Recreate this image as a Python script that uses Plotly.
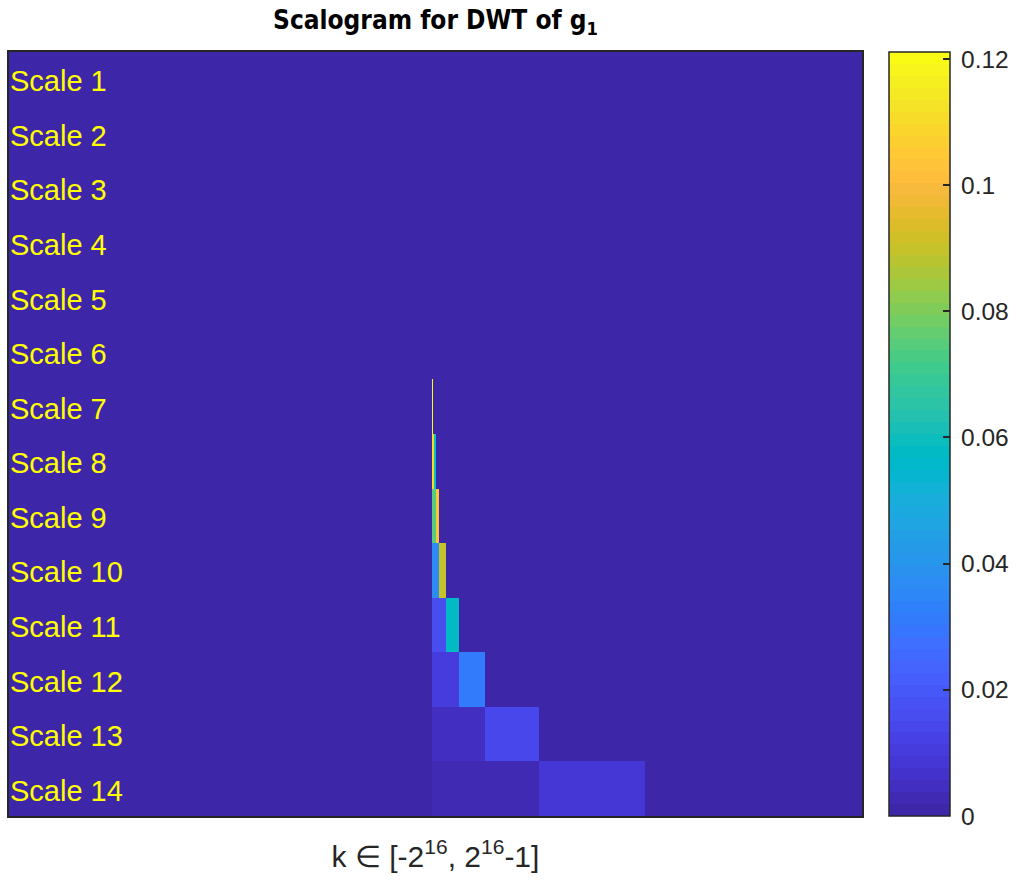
import plotly.graph_objects as go
import numpy as np

# ---------------- data ----------------
scales = list(range(1, 15))
scale_labels = [f"Scale {s}" for s in scales]
k_min, k_max = -65536, 65536          # k in [-2^16, 2^16-1]
start_k = -512                          # first non-zero coefficient position
# non-zero coefficient magnitudes (consecutive, starting at start_k), per scale
coef_s7 = [0.121]
coef_s8 = [0.110, 0.060]
coef_s9 = [0.075, 0.104]
coef_s10 = [0.037, 0.090]
coef_s11 = [0.017, 0.057]
coef_s12 = [0.010, 0.031]
coef_s13 = [0.004, 0.014]
coef_s14 = [0.002, 0.009]
coefs = {7: coef_s7, 8: coef_s8, 9: coef_s9, 10: coef_s10,
         11: coef_s11, 12: coef_s12, 13: coef_s13, 14: coef_s14}
cmin, cmax = 0.0, 0.1211
cbar_ticks = [0, 0.02, 0.04, 0.06, 0.08, 0.1, 0.12]
cbar_ticktext = ["0", "0.02", "0.04", "0.06", "0.08", "0.1", "0.12"]

# parula (64)
parula = [
(0.2422,0.1504,0.6603),(0.2504,0.1650,0.7076),(0.2578,0.1818,0.7511),(0.2647,0.1978,0.7952),
(0.2706,0.2147,0.8364),(0.2751,0.2342,0.8710),(0.2783,0.2559,0.8991),(0.2803,0.2782,0.9221),
(0.2813,0.3006,0.9414),(0.2810,0.3228,0.9579),(0.2795,0.3447,0.9717),(0.2760,0.3667,0.9829),
(0.2699,0.3892,0.9906),(0.2602,0.4123,0.9952),(0.2440,0.4358,0.9988),(0.2206,0.4603,0.9973),
(0.1963,0.4847,0.9892),(0.1834,0.5074,0.9798),(0.1786,0.5289,0.9682),(0.1764,0.5499,0.9520),
(0.1687,0.5703,0.9359),(0.1540,0.5902,0.9218),(0.1460,0.6091,0.9079),(0.1380,0.6276,0.8973),
(0.1248,0.6459,0.8883),(0.1113,0.6635,0.8763),(0.0952,0.6798,0.8598),(0.0689,0.6948,0.8394),
(0.0297,0.7082,0.8163),(0.0036,0.7203,0.7917),(0.0067,0.7312,0.7660),(0.0433,0.7411,0.7394),
(0.0964,0.7500,0.7120),(0.1408,0.7584,0.6842),(0.1717,0.7670,0.6554),(0.1938,0.7758,0.6251),
(0.2161,0.7843,0.5923),(0.2470,0.7918,0.5567),(0.2906,0.7973,0.5188),(0.3406,0.8008,0.4789),
(0.3909,0.8029,0.4354),(0.4456,0.8024,0.3909),(0.5044,0.7993,0.3480),(0.5616,0.7942,0.3045),
(0.6174,0.7876,0.2612),(0.6720,0.7793,0.2227),(0.7242,0.7698,0.1910),(0.7738,0.7598,0.1646),
(0.8203,0.7498,0.1535),(0.8634,0.7406,0.1596),(0.9035,0.7330,0.1774),(0.9393,0.7288,0.2100),
(0.9728,0.7298,0.2394),(0.9956,0.7434,0.2371),(0.9970,0.7659,0.2199),(0.9952,0.7893,0.2028),
(0.9892,0.8136,0.1885),(0.9786,0.8386,0.1766),(0.9676,0.8639,0.1643),(0.9610,0.8890,0.1537),
(0.9597,0.9135,0.1423),(0.9628,0.9373,0.1265),(0.9691,0.9606,0.1064),(0.9769,0.9839,0.0805)]

def rgb(c):
    return "rgb(%d,%d,%d)" % tuple(int(round(v * 255)) for v in c)

n = len(parula)
colorscale = []
for i, c in enumerate(parula):
    colorscale.append([i / n, rgb(c)])
    colorscale.append([(i + 1) / n, rgb(c)])

# ---------------- build heatmap grid ----------------
edges = {k_min, k_max}
for s, vals in coefs.items():
    w = 2 ** s
    for i in range(len(vals) + 1):
        edges.add(start_k + i * w)
edges = sorted(edges)
centers = [(a + b) / 2 for a, b in zip(edges[:-1], edges[1:])]

z = []
for s in scales:
    row = []
    vals = coefs.get(s, [])
    w = 2 ** s
    for c in centers:
        idx = int(np.floor((c - start_k) / w))
        row.append(vals[idx] if 0 <= idx < len(vals) and c >= start_k else 0.0)
    z.append(row)

PL, PR, PT, PB = 9, 862, 52, 816
W, H = 1018, 881
pw = PR - PL

fig = go.Figure(go.Heatmap(
    x=edges, y=scales, z=z, zmin=cmin, zmax=cmax,
    colorscale=colorscale, hoverinfo="skip",
    colorbar=dict(
        x=(889 - PL) / pw, xref="paper", xanchor="left", xpad=0,
        y=1, yref="paper", yanchor="top", ypad=0,
        len=1, lenmode="fraction", thickness=61, thicknessmode="pixels",
        outlinewidth=1.5, outlinecolor="#262626",
        tickvals=cbar_ticks, ticktext=["\u2009" + t for t in cbar_ticktext],
        ticks="inside", ticklen=7, tickwidth=1.5, tickcolor="#262626",
        tickfont=dict(family="Liberation Sans, Arial", size=24.5, color="#262626"),
    ),
))

for s, lab in zip(scales, scale_labels):
    fig.add_annotation(x=0, xref="paper", xanchor="left", xshift=-1,
                       y=s, yref="y", yanchor="middle", yshift=-2, text=lab, showarrow=False,
                       font=dict(family="Liberation Sans, Arial", size=29, color="#ffff00"))

fig.update_layout(
    width=W, height=H,
    margin=dict(l=PL, r=W - PR, t=PT, b=H - PB, autoexpand=False),
    paper_bgcolor="white", plot_bgcolor="white",
    title=dict(text="Scalogram for DWT of g<sub>1</sub>", x=(PL + PR) / 2 / W, xanchor="center",
               y=1 - 20 / H, yanchor="middle",
               font=dict(family="Liberation Sans Narrow, DejaVu Sans Condensed, Arial", size=26,
                         color="black", weight="bold")),
    xaxis=dict(range=[k_min, k_max], showticklabels=False, ticks="", showgrid=False,
               zeroline=False, showline=True, mirror=True, linecolor="#262626", linewidth=1.5,
               title=dict(text="k \u2208 [-2<sup>16</sup>, 2<sup>16</sup>-1]", standoff=29,
                          font=dict(family="Liberation Sans, Arial", size=30, color="#262626"))),
    yaxis=dict(range=[14.5, 0.5], showticklabels=False, ticks="", showgrid=False,
               zeroline=False, showline=True, mirror=True, linecolor="#262626", linewidth=1.5),
)

fig.write_html("out.html")
